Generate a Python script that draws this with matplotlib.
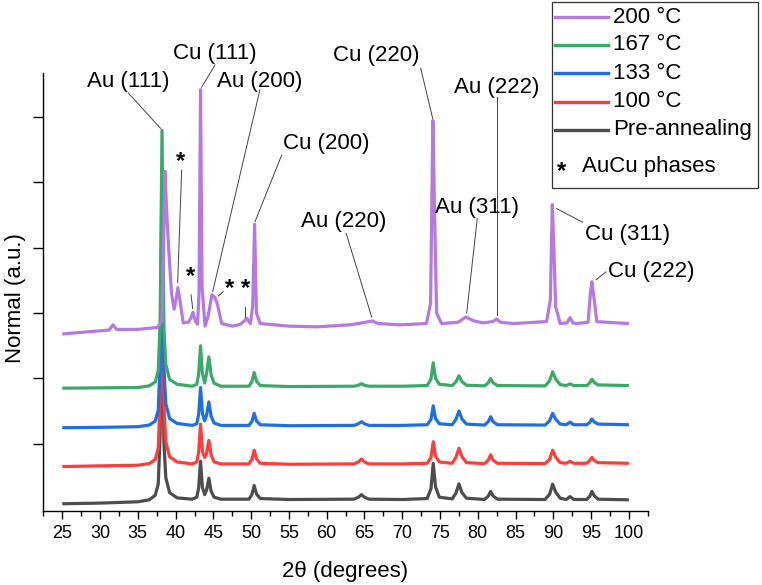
import matplotlib
matplotlib.use("Agg")
import matplotlib.pyplot as plt
from matplotlib.lines import Line2D
from matplotlib.patches import Rectangle
from matplotlib.ticker import MultipleLocator

plt.rcParams['font.family'] = ['Liberation Sans', 'DejaVu Sans']

# ---------------- data (2θ in degrees, normalised intensity in a.u., curves already offset) ----
two_theta = [25, 30, 35, 36.5, 37.3, 37.7, 37.95, 38.2, 38.45, 38.7, 39.2, 40.2,
             42.2, 42.8, 43.05, 43.3, 43.55, 43.85, 44.1, 44.4, 44.7, 45.1, 46.0,
             49.7, 50.1, 50.4, 50.7, 51.2, 55, 63.6, 64.2, 64.6, 65.0, 65.6, 70,
             73.3, 73.8, 74.1, 74.4, 74.9, 76.6, 77.1, 77.5, 77.9, 78.5,
             80.9, 81.4, 81.7, 82.0, 82.6, 88.9, 89.5, 89.9, 90.3, 90.9,
             91.7, 92.2, 92.7, 94.4, 94.8, 95.1, 95.4, 95.9, 100]

pre_annealing = [0.08, 0.09, 0.11, 0.14, 0.21, 0.38, 1.13, 4.08, 1.03, 0.48, 0.25, 0.17,
                 0.15, 0.18, 0.32, 0.73, 0.33, 0.22, 0.29, 0.47, 0.27, 0.18, 0.15,
                 0.15, 0.22, 0.36, 0.23, 0.16, 0.145, 0.15, 0.18, 0.22, 0.18, 0.15, 0.145,
                 0.16, 0.31, 0.70, 0.34, 0.18, 0.155, 0.24, 0.385, 0.25, 0.165,
                 0.145, 0.20, 0.27, 0.20, 0.15, 0.145, 0.225, 0.38, 0.26, 0.165,
                 0.145, 0.19, 0.145, 0.145, 0.19, 0.27, 0.205, 0.15, 0.14]

anneal_100 = [0.65, 0.66, 0.67, 0.695, 0.755, 0.93, 1.68, 4.63, 1.58, 1.03, 0.80, 0.72,
              0.69, 0.72, 0.87, 1.30, 0.88, 0.79, 0.85, 1.05, 0.83, 0.72, 0.69,
              0.69, 0.76, 0.90, 0.77, 0.70, 0.685, 0.69, 0.72, 0.765, 0.72, 0.69, 0.69,
              0.70, 0.79, 1.03, 0.81, 0.72, 0.70, 0.79, 0.93, 0.80, 0.71,
              0.695, 0.75, 0.83, 0.75, 0.70, 0.695, 0.76, 0.90, 0.795, 0.71,
              0.70, 0.73, 0.70, 0.70, 0.74, 0.79, 0.745, 0.71, 0.70]

anneal_133 = [1.245, 1.25, 1.26, 1.285, 1.345, 1.515, 2.265, 5.215, 2.165, 1.615, 1.385, 1.31,
              1.28, 1.305, 1.45, 1.86, 1.46, 1.35, 1.44, 1.64, 1.42, 1.315, 1.28,
              1.28, 1.34, 1.465, 1.35, 1.29, 1.275, 1.28, 1.305, 1.337, 1.305, 1.28, 1.28,
              1.29, 1.37, 1.58, 1.385, 1.305, 1.29, 1.37, 1.50, 1.38, 1.30,
              1.285, 1.34, 1.413, 1.34, 1.29, 1.285, 1.35, 1.465, 1.375, 1.30,
              1.29, 1.33, 1.29, 1.29, 1.325, 1.378, 1.335, 1.30, 1.29]

anneal_167 = [1.85, 1.855, 1.86, 1.885, 1.945, 2.115, 2.865, 5.80, 2.765, 2.215, 1.985, 1.91,
              1.88, 1.91, 2.06, 2.50, 2.07, 1.93, 2.08, 2.33, 2.05, 1.925, 1.88,
              1.88, 1.95, 2.09, 1.96, 1.89, 1.875, 1.88, 1.895, 1.92, 1.895, 1.88, 1.88,
              1.89, 1.99, 2.24, 2.005, 1.91, 1.89, 1.945, 2.04, 1.95, 1.895,
              1.885, 1.935, 2.00, 1.935, 1.89, 1.885, 1.96, 2.10, 1.99, 1.905,
              1.89, 1.915, 1.89, 1.89, 1.93, 1.986, 1.94, 1.90, 1.89]

two_theta_200 = [25, 28, 31.2, 31.7, 32.2, 35, 37.6, 38.2, 38.4, 38.6, 38.8, 39.05,
                 39.45, 39.8, 40.05, 40.3, 40.7, 41.0, 41.7, 42.0, 42.3, 42.6, 42.9,
                 43.1, 43.3, 43.5, 43.9, 44.3, 44.8, 45.2, 45.5, 46.1, 47.5, 48.6,
                 49.1, 49.4, 49.9, 50.2, 50.45, 50.7, 51.2, 55, 58.7, 63.1, 65.2,
                 66.0, 66.8, 69.7, 73.2, 73.75, 74.05, 74.3, 74.55, 75.2, 77.4, 78.4,
                 79.5, 80.7, 82.0, 82.5, 83.0, 84.7, 89.1, 89.6, 89.86, 90.1, 90.3,
                 90.9, 91.8, 92.2, 92.6, 93.1, 94.6, 94.9, 95.1, 95.45, 95.75, 97, 100]
anneal_200 = [2.68, 2.71, 2.74, 2.82, 2.75, 2.75, 2.78, 2.88, 4.0, 5.17, 4.6, 4.05,
              3.31, 3.06, 3.2, 3.39, 3.10, 2.85, 2.86, 2.92, 3.01, 2.88, 2.83,
              3.3, 6.42, 3.4, 2.8, 2.95, 3.28, 3.24, 3.15, 2.84, 2.8, 2.83,
              2.88, 2.92, 2.84, 3.1, 4.36, 3.0, 2.84, 2.8, 2.79, 2.82, 2.86,
              2.88, 2.84, 2.82, 2.84, 3.15, 5.95, 4.4, 3.0, 2.84, 2.86, 2.94,
              2.88, 2.85, 2.87, 2.91, 2.86, 2.84, 2.87, 3.2, 4.66, 3.89, 3.1,
              2.84, 2.85, 2.93, 2.85, 2.84, 2.86, 3.3, 3.48, 3.17, 2.87, 2.86, 2.84]

series_labels = ['200 °C', '167 °C', '133 °C', '100 °C', 'Pre-annealing']
series_colors = ['#b57ae2', '#3aaa6b', '#1f6fe4', '#fb3d3d', '#4d4d4d']

# peak labels: text, text position (2θ, a.u.), leader start, leader end
peak_labels = ['Au (111)', 'Cu (111)', 'Au (200)', 'Cu (200)', 'Au (220)',
               'Cu (220)', 'Au (222)', 'Au (311)', 'Cu (311)', 'Cu (222)']
peak_text_pos = [(33.71, 6.54), (45.21, 6.97), (51.10, 6.54), (59.90, 5.60), (62.29, 4.40),
                 (66.52, 6.94), (82.50, 6.46), (79.85, 4.62), (99.81, 4.20), (102.92, 3.63)]
peak_leader_from = [(33.74, 6.37), (45.21, 6.80), (51.16, 6.42), (54.04, 5.42), (62.58, 4.22),
                    (72.44, 6.75), (82.50, 6.31), (79.93, 4.45), (93.88, 4.39), (96.97, 3.63)]
peak_leader_to = [(38.0, 5.83), (43.45, 6.46), (44.91, 3.33), (50.51, 4.40), (65.95, 2.94),
                  (74.03, 5.98), (82.50, 2.97), (78.53, 3.00), (90.44, 4.60), (95.64, 3.51)]

# AuCu phase markers
star_pos = [(40.71, 5.22), (42.01, 3.46), (47.13, 3.28), (49.25, 3.28)]
star_leader_from = [(40.80, 5.19), (42.04, 3.28), (46.31, 3.33), (49.18, 3.10)]
star_leader_to = [(40.27, 3.47), (42.26, 3.07), (45.65, 3.26), (49.18, 2.94)]

x_ticks = list(range(25, 101, 5))

# ---------------- figure ----------------
W, H = 762, 585
fig = plt.figure(figsize=(W / 100, H / 100), dpi=100)
ax = fig.add_axes([43.4 / W, 1 - 511 / H, (647.8 - 43.4) / W, (511 - 73) / H])

lw = 2.3
curves = [(two_theta, pre_annealing, 4), (two_theta, anneal_100, 3),
          (two_theta, anneal_133, 2), (two_theta, anneal_167, 1),
          (two_theta_200, anneal_200, 0)]
for xs, ys, idx in curves:
    ax.plot(xs, ys, color=series_colors[idx], lw=lw, solid_joinstyle='round',
            solid_capstyle='butt', label=series_labels[idx])

ax.set_xlim(22.5, 102.5)
ax.set_ylim(-0.031, 6.677)
ax.set_xticks(x_ticks)
ax.xaxis.set_minor_locator(MultipleLocator(2.5))
ax.set_yticks([1, 2, 3, 4, 5, 6])
ax.set_yticklabels([])
ax.tick_params(axis='x', which='major', direction='out', length=6, width=1.0,
               labelsize=13, pad=4)
ax.tick_params(axis='x', which='minor', direction='out', length=3.6, width=1.0)
ax.tick_params(axis='y', which='major', direction='out', length=7, width=1.0)
for s in ['top', 'right']:
    ax.spines[s].set_visible(False)
for s in ['left', 'bottom']:
    ax.spines[s].set_linewidth(1.0)

ax.set_xlabel('2θ (degrees)', fontsize=16)
ax.xaxis.label.set_va('center')
ax.xaxis.set_label_coords((345 - 43.4) / (647.8 - 43.4), (511 - 572) / 438)
ax.set_ylabel('Normal (a.u.)', fontsize=16)
ax.yaxis.label.set_va('center')
ax.yaxis.set_label_coords((16 - 43.4) / (647.8 - 43.4), (511 - 298) / 438)

# annotations
lead_kw = dict(color='#444444', lw=0.7, clip_on=False, zorder=6)
for lab, tp, a, b in zip(peak_labels, peak_text_pos, peak_leader_from, peak_leader_to):
    ax.text(tp[0], tp[1], lab, fontsize=16, ha='center', va='center', zorder=7)
    ax.plot([a[0], b[0]], [a[1], b[1]], **lead_kw)
for sp, a, b in zip(star_pos, star_leader_from, star_leader_to):
    ax.text(sp[0], sp[1], '*', fontsize=17, fontweight='bold', ha='center', va='baseline', zorder=7)
    ax.plot([a[0], b[0]], [a[1], b[1]], **lead_kw)

# legend box (figure pixel layout)
def fx(px):
    return px / W

def fy(py):
    return 1 - py / H

fig.patches.append(Rectangle((fx(552.3), fy(188)), fx(758) - fx(552.3), fy(2) - fy(188),
                             transform=fig.transFigure, fill=False, edgecolor='#333333',
                             lw=0.9, zorder=10))
leg_rows = [17.3, 45.0, 73.3, 101.7, 130.0]
for i, py in enumerate(leg_rows):
    fig.lines.append(Line2D([fx(555), fx(608)], [fy(py), fy(py)], transform=fig.transFigure,
                            color=series_colors[i], lw=2.4))
    fig.text(fx(613.3), fy(py), series_labels[i], fontsize=16, ha='left', va='center')
fig.text(fx(561.7), fy(165 + 13), '*', fontsize=17, fontweight='bold', ha='center', va='baseline')
fig.text(fx(581.7), fy(166.7), 'AuCu phases', fontsize=16, ha='left', va='center')

fig.savefig('out.png', dpi=100)
